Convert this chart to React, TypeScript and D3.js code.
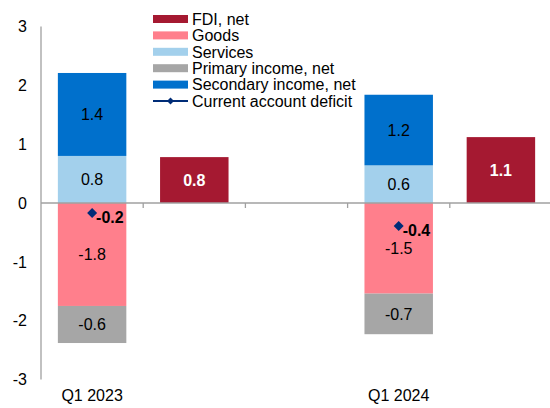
import React from "react";
import * as d3 from "d3";

const categories = ["Q1 2023", "", "", "Q1 2024", ""];
const goods = [-1.75, null, null, -1.54, null];
const primaryIncome = [-0.63, null, null, -0.69, null];
const services = [0.8, null, null, 0.64, null];
const secondaryIncome = [1.41, null, null, 1.2, null];
const fdi = [null, 0.78, null, null, 1.12];
const currentAccount = [-0.17, null, null, -0.39, null];
const yTicks = [3, 2, 1, 0, -1, -2, -3];

const COLORS = {
  fdi: "#A51931",
  goods: "#FF7F8C",
  services: "#A3D0EC",
  primary: "#A6A6A6",
  secondary: "#0070CC",
  ca: "#002C77",
};

const legendItems = [
  { label: "FDI, net", color: COLORS.fdi, type: "rect" },
  { label: "Goods", color: COLORS.goods, type: "rect" },
  { label: "Services", color: COLORS.services, type: "rect" },
  { label: "Primary income, net", color: COLORS.primary, type: "rect" },
  { label: "Secondary income, net", color: COLORS.secondary, type: "rect" },
  { label: "Current account deficit", color: COLORS.ca, type: "line" },
];

const W = 550;
const H = 408;
const left = 41;
const right = 552;
const top = 26.5;
const bottom = 379.5;
const FONT = "'Liberation Sans', Arial, sans-serif";
const FS = 16;

function fmt(v: number) {
  return d3.format(".1f")(v).replace("\u2212", "-");
}

export default function App() {
  const x = d3
    .scaleBand<number>()
    .domain(categories.map((_, i) => i))
    .range([left, right])
    .paddingInner(0.33)
    .paddingOuter(0.165);
  const y = d3.scaleLinear().domain([-3, 3]).range([bottom, top]);
  const step = x.step();
  const bw = x.bandwidth();

  const bars: any[] = [];
  categories.forEach((_, i) => {
    const x0 = x(i)!;
    let pos = 0;
    const posSeries = [
      { v: services[i], c: COLORS.services },
      { v: secondaryIncome[i], c: COLORS.secondary },
    ];
    posSeries.forEach((s, k) => {
      if (s.v == null) return;
      const y0 = y(pos);
      const y1 = y(pos + s.v);
      bars.push({ key: `p${i}${k}`, x: x0, y: y1, h: y0 - y1, c: s.c, label: fmt(s.v), lc: "#000", bold: false });
      pos += s.v;
    });
    let neg = 0;
    const negSeries = [
      { v: goods[i], c: COLORS.goods },
      { v: primaryIncome[i], c: COLORS.primary },
    ];
    negSeries.forEach((s, k) => {
      if (s.v == null) return;
      const y0 = y(neg);
      const y1 = y(neg + s.v);
      bars.push({ key: `n${i}${k}`, x: x0, y: y0, h: y1 - y0, c: s.c, label: fmt(s.v), lc: "#000", bold: false });
      neg += s.v;
    });
    const f = fdi[i];
    if (f != null) {
      bars.push({ key: `f${i}`, x: x0, y: y(f), h: y(0) - y(f), c: COLORS.fdi, label: fmt(f), lc: "#fff", bold: true });
    }
  });

  const diamond = (cx: number, cy: number, r: number) =>
    `M${cx},${cy - r}L${cx + r},${cy}L${cx},${cy + r}L${cx - r},${cy}Z`;

  const legX = 153;
  const legY0 = 19;
  const legStep = 16.4;

  return (
    <svg width={W} height={H} style={{ position: "absolute", left: 0, top: 0 }} fontFamily={FONT}>
      <rect width={W} height={H} fill="#fff" />
      {bars.map((b) => (
        <g key={b.key}>
          <rect x={b.x} y={b.y} width={bw} height={b.h} fill={b.c} />
          <text
            x={b.x + bw / 2}
            y={b.y + b.h / 2}
            dy="0.36em"
            textAnchor="middle"
            fontSize={FS}
            fontWeight={b.bold ? "bold" : "normal"}
            fill={b.lc}
          >
            {b.label}
          </text>
        </g>
      ))}
      <line x1={left} x2={left} y1={top} y2={bottom} stroke="#A0A0A0" strokeWidth={1.3} />
      <line x1={left} x2={W} y1={y(0)} y2={y(0)} stroke="#A0A0A0" strokeWidth={1.3} />
      {categories.map((_, i) =>
        i === 0 ? null : (
          <line key={`t${i}`} x1={left + step * i} x2={left + step * i} y1={y(0)} y2={y(0) + 5} stroke="#A0A0A0" strokeWidth={1.3} />
        )
      )}
      {yTicks.map((t) => (
        <text key={`y${t}`} x={27} y={y(t)} dy="0.36em" textAnchor="end" fontSize={FS} fill="#000">
          {fmt(t).replace(".0", "")}
        </text>
      ))}
      {categories.map((c, i) =>
        c ? (
          <text key={`c${i}`} x={x(i)! + bw / 2} y={401} textAnchor="middle" fontSize={FS} fill="#000">
            {c}
          </text>
        ) : null
      )}
      {currentAccount.map((v, i) =>
        v == null ? null : (
          <g key={`ca${i}`}>
            <path d={diamond(x(i)! + bw / 2, y(v), 5)} fill={COLORS.ca} />
            <text x={x(i)! + bw / 2 + 4} y={y(v) + 4} dy="0.36em" fontSize={FS} fontWeight="bold" fill="#000">
              {fmt(v)}
            </text>
          </g>
        )
      )}
      {legendItems.map((it, k) => {
        const cy = legY0 + k * legStep;
        return (
          <g key={it.label}>
            {it.type === "rect" ? (
              <rect x={legX} y={cy - 4} width={35} height={8} fill={it.color} />
            ) : (
              <g>
                <line x1={legX} x2={legX + 35} y1={cy} y2={cy} stroke={it.color} strokeWidth={2.2} />
                <path d={diamond(legX + 17.5, cy, 3.5)} fill={it.color} />
              </g>
            )}
            <text x={legX + 39} y={cy} dy="0.36em" fontSize={FS} fill="#000">
              {it.label}
            </text>
          </g>
        );
      })}
    </svg>
  );
}
